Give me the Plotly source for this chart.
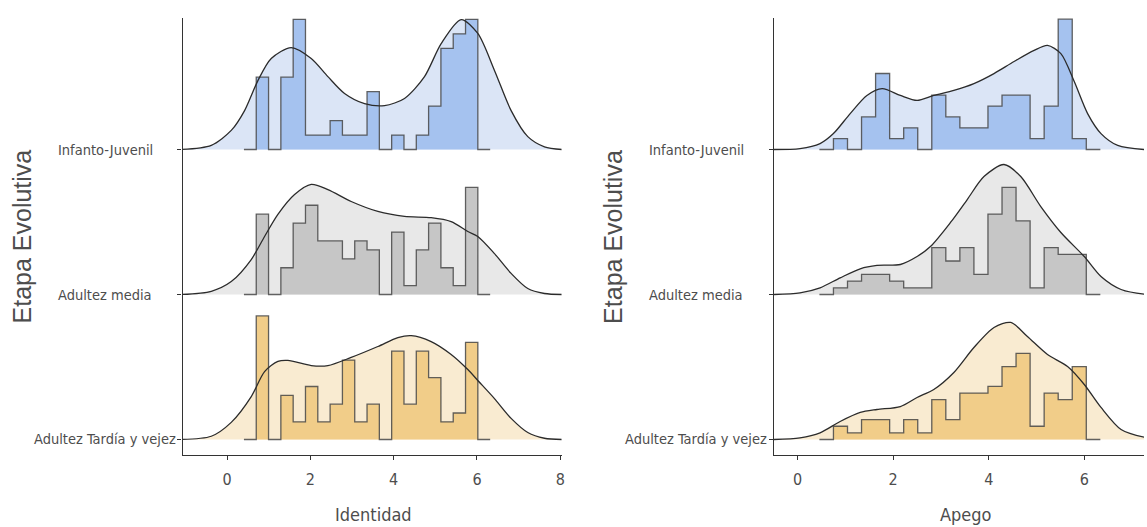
import numpy as np
import plotly.graph_objects as go

# ---------------- data ----------------
groups = ["Adultez Tardía y vejez", "Adultez media", "Infanto-Juvenil"]

# histogram counts, 18 bins per panel
ident_counts_tardia = [14, 0, 5, 2, 6, 2, 4, 9, 2, 4, 0, 10, 4, 10, 7, 2, 3, 11]
ident_counts_media = [9, 0, 3, 8, 10, 6, 6, 4, 6, 5, 0, 7, 1, 5, 8, 3, 1, 12]
ident_counts_infanto = [5, 0, 5, 9, 1, 1, 2, 1, 1, 4, 0, 1, 0, 1, 3, 7, 8, 9]

apego_counts_tardia = [2, 1, 3, 3, 1, 3, 1, 6, 3, 7, 7, 8, 11, 13, 2, 7, 6, 11]
apego_counts_media = [1, 2, 3, 3, 2, 1, 1, 7, 5, 7, 3, 12, 16, 11, 1, 7, 6, 6]
apego_counts_infanto = [1, 0, 3, 7, 1, 2, 0, 5, 3, 2, 2, 4, 5, 5, 1, 4, 12, 1]

# density curves (x, density)
ident_dx_infanto = [-1.1, -0.38, 0.10, 0.42, 0.74, 1.06, 1.54, 2.02, 2.42, 2.82, 3.30, 3.78, 4.26, 4.74, 5.14, 5.62, 6.02, 6.42, 6.82, 7.22, 7.62, 8.05]
ident_dy_infanto = [0.0, 0.017, 0.077, 0.157, 0.278, 0.367, 0.411, 0.367, 0.294, 0.226, 0.185, 0.177, 0.206, 0.294, 0.427, 0.524, 0.468, 0.319, 0.157, 0.052, 0.011, 0.0]
ident_dx_media = [-1.1, -0.38, 0.10, 0.58, 0.90, 1.22, 1.62, 2.02, 2.42, 2.98, 3.62, 4.26, 4.90, 5.38, 5.78, 6.02, 6.42, 6.82, 7.22, 7.62, 8.05]
ident_dy_media = [0.0, 0.013, 0.052, 0.141, 0.234, 0.323, 0.403, 0.444, 0.423, 0.375, 0.335, 0.315, 0.310, 0.294, 0.254, 0.234, 0.165, 0.085, 0.024, 0.004, 0.0]
ident_dx_tardia = [-1.1, -0.38, 0.10, 0.58, 0.90, 1.22, 1.46, 2.02, 2.42, 2.98, 3.62, 4.10, 4.42, 4.90, 5.38, 5.78, 6.02, 6.42, 6.82, 7.22, 7.62, 8.05]
ident_dy_tardia = [0.0, 0.013, 0.069, 0.173, 0.274, 0.315, 0.319, 0.298, 0.298, 0.331, 0.375, 0.411, 0.419, 0.395, 0.343, 0.282, 0.238, 0.165, 0.085, 0.028, 0.005, 0.0]

apego_dx_infanto = [-0.5, 0.05, 0.47, 0.75, 1.10, 1.45, 1.77, 2.15, 2.50, 2.85, 3.27, 3.69, 4.11, 4.53, 4.95, 5.23, 5.51, 5.79, 6.07, 6.35, 6.70, 7.26, 7.7]
apego_dy_infanto = [0.0, 0.005, 0.032, 0.086, 0.194, 0.292, 0.329, 0.292, 0.265, 0.292, 0.319, 0.356, 0.410, 0.475, 0.535, 0.562, 0.518, 0.367, 0.194, 0.086, 0.022, 0.0, 0.0]
apego_dx_media = [-0.5, 0.05, 0.47, 0.89, 1.31, 1.66, 2.15, 2.50, 2.78, 3.20, 3.55, 3.90, 4.32, 4.67, 5.09, 5.51, 6.00, 6.35, 6.77, 7.26, 7.7]
apego_dy_media = [0.0, 0.009, 0.036, 0.090, 0.139, 0.157, 0.162, 0.205, 0.259, 0.389, 0.513, 0.637, 0.702, 0.637, 0.475, 0.335, 0.205, 0.097, 0.027, 0.002, 0.0]
apego_dx_tardia = [-0.5, 0.05, 0.47, 0.89, 1.31, 1.66, 2.15, 2.50, 2.85, 3.27, 3.69, 4.11, 4.46, 4.81, 5.23, 5.65, 6.00, 6.35, 6.77, 7.26, 7.7]
apego_dy_tardia = [0.0, 0.009, 0.036, 0.097, 0.146, 0.162, 0.178, 0.227, 0.270, 0.362, 0.497, 0.605, 0.632, 0.556, 0.459, 0.394, 0.297, 0.173, 0.054, 0.012, 0.0]

x_ticks_ident = [0, 2, 4, 6, 8]
x_ticks_apego = [0, 2, 4, 6]

# ---------------- style ----------------
W, H = 1147, 527
dens_fill = ["#f9ebd1", "#e8e8e8", "#dbe5f6"]
hist_fill = ["#f1cd89", "#c6c6c6", "#a5c2ef"]
line_col = "#2b2b2b"
hist_line = "rgba(70,70,70,0.85)"
axis_col = "#333333"
txt_col = "#4d4d4d"
narrow = "Liberation Sans Narrow, Arial Narrow, DejaVu Sans Condensed, sans-serif"
regular = "Liberation Sans, Arial, sans-serif"

panels = [
    dict(xa="x", ya="y",
         counts=[ident_counts_tardia, ident_counts_media, ident_counts_infanto],
         dx=[ident_dx_tardia, ident_dx_media, ident_dx_infanto],
         dy=[ident_dy_tardia, ident_dy_media, ident_dy_infanto],
         lo=0.70, w=0.2956, scale=1.71),
    dict(xa="x2", ya="y2",
         counts=[apego_counts_tardia, apego_counts_media, apego_counts_infanto],
         dx=[apego_dx_tardia, apego_dx_media, apego_dx_infanto],
         dy=[apego_dy_tardia, apego_dy_media, apego_dy_infanto],
         lo=0.75, w=0.294, scale=1.277),
]

fig = go.Figure()
order = [2, 1, 0]  # draw top ridge first
for p in panels:
    xa, ya = p["xa"], p["ya"]
    # density fills
    for g in order:
        base = g
        dx = np.array(p["dx"][g])
        dy = base + np.array(p["dy"][g]) * p["scale"]
        fig.add_trace(go.Scatter(x=dx, y=dy, mode="lines", line=dict(width=0, shape="spline", smoothing=0.8),
                                 fill="toself", fillcolor=dens_fill[g], hoverinfo="skip",
                                 xaxis=xa, yaxis=ya, showlegend=False))
    # histograms
    for g in order:
        base = g
        c = np.array(p["counts"][g], dtype=float)
        w = p["w"]
        edges = p["lo"] + w * np.arange(len(c) + 1)
        dens = c / (c.sum() * w)
        hx = np.concatenate([[edges[0] - w], edges, [edges[-1] + w]])
        hy = base + np.concatenate([[0], dens * p["scale"], [0, 0]])
        fig.add_trace(go.Scatter(x=hx, y=hy, mode="lines", line=dict(width=0, shape="hv"),
                                 fill="toself", fillcolor=hist_fill[g], hoverinfo="skip",
                                 xaxis=xa, yaxis=ya, showlegend=False))
        fig.add_trace(go.Scatter(x=hx, y=hy, mode="lines", line=dict(width=1.3, shape="hv", color=hist_line),
                                 hoverinfo="skip", xaxis=xa, yaxis=ya, showlegend=False))
    # density lines
    for g in order:
        base = g
        dx = np.array(p["dx"][g])
        dy = base + np.array(p["dy"][g]) * p["scale"]
        fig.add_trace(go.Scatter(x=dx, y=dy, mode="lines",
                                 line=dict(width=1.3, color=line_col, shape="spline", smoothing=0.8),
                                 hoverinfo="skip", xaxis=xa, yaxis=ya, showlegend=False))

def px_x(v):
    return v / W

def px_y(v):
    return (H - v) / H

ydom = [px_y(455), px_y(18)]
yrange = [-0.107, 2.907]
common_x = dict(showline=True, linecolor=axis_col, linewidth=1.1, ticks="outside", ticklen=4,
                tickcolor=axis_col, tickwidth=1.1, showgrid=False, zeroline=False,
                tickfont=dict(family=narrow, size=16, color=txt_col), ticklabelstandoff=6)
common_y = dict(showline=True, linecolor=axis_col, linewidth=1.1, ticks="outside", ticklen=4,
                tickcolor=axis_col, tickwidth=1.1, showgrid=False, zeroline=False,
                tickvals=[0, 1, 2], showticklabels=False, range=yrange, domain=ydom)

fig.update_layout(
    width=W, height=H, margin=dict(l=0, r=0, t=0, b=0),
    paper_bgcolor="white", plot_bgcolor="white",
    xaxis=dict(domain=[px_x(183), px_x(563)], range=[-1.07, 8.03], tickvals=x_ticks_ident,
               anchor="y", **common_x),
    yaxis=dict(anchor="x", **common_y),
    xaxis2=dict(domain=[px_x(776), 1.0], range=[-0.495, 7.25], tickvals=x_ticks_apego,
                anchor="y2", **common_x),
    yaxis2=dict(anchor="x2", **common_y),
)

annots = []
for yref, xc in [("y", 105.5), ("y2", 698)]:
    for g, name in enumerate(groups):
        annots.append(dict(text=name, x=px_x(xc), xref="paper", y=g, yref=yref,
                           xanchor="center", yanchor="middle", showarrow=False,
                           font=dict(family=narrow, size=14.5, color=txt_col)))
for xc in [23, 615]:
    annots.append(dict(text="Etapa Evolutiva", x=px_x(xc), y=px_y(236.5), xref="paper", yref="paper",
                       textangle=-90, xanchor="center", yanchor="middle", showarrow=False,
                       font=dict(family=regular, size=25, color=txt_col)))
for xc, t in [(374, "Identidad"), (968.7, "Apego")]:
    annots.append(dict(text=t, x=px_x(xc), y=px_y(514), xref="paper", yref="paper",
                       xanchor="center", yanchor="middle", showarrow=False,
                       font=dict(family=narrow, size=18, color=txt_col)))
fig.update_layout(annotations=annots)

fig.write_html("out.html", config={"displayModeBar": False},
               post_script="document.body.style.margin='0px';document.body.style.overflow='hidden';")
